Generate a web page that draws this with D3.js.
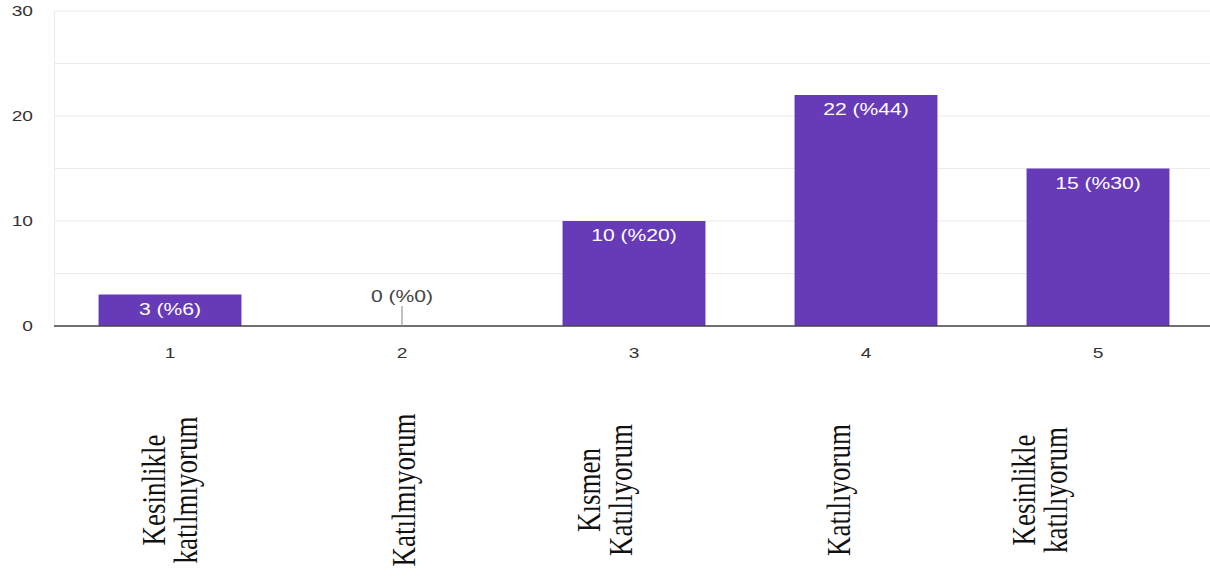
<!DOCTYPE html>
<html>
<head>
<meta charset="utf-8">
<script src="https://cdn.jsdelivr.net/npm/d3@7"></script>
<style>
  html, body { margin: 0; padding: 0; background: #fff; }
  svg { display: block; }
</style>
</head>
<body>
<svg id="chart" width="1210" height="581"></svg>
<script>
// ---- data ----
const categories = ["1", "2", "3", "4", "5"];
const counts = [3, 0, 10, 22, 15];
const percents = [6, 0, 20, 44, 30];
const yTicks = [0, 10, 20, 30];
const gridValues = [0, 5, 10, 15, 20, 25, 30];
const answerLabels = [
  ["Kesinlikle", "katılmıyorum"],
  ["Katılmıyorum"],
  ["Kısmen", "Katılıyorum"],
  ["Katılıyorum"],
  ["Kesinlikle", "katılıyorum"]
];

(function () {
// ---- layout ----
const W = 1210, H = 581;
const pLeft = 54, pRight = 1214, pTop = 11, pBottom = 326;
const sx = 1.28; // horizontal stretch of the original picture's text
const barColor = "#673ab7";

const svg = d3.select("#chart");

const x = d3.scaleBand().domain(categories).range([pLeft, pRight])
  .paddingInner(0.384).paddingOuter(0.192);
const y = d3.scaleLinear().domain([0, 30]).range([pBottom, pTop]);

// gridlines
svg.append("g").selectAll("line").data(gridValues).join("line")
  .attr("x1", pLeft).attr("x2", W)
  .attr("y1", d => y(d)).attr("y2", d => y(d))
  .attr("stroke", "#ebebeb").attr("stroke-width", 1);

// left frame line
svg.append("line")
  .attr("x1", pLeft + 0.5).attr("x2", pLeft + 0.5)
  .attr("y1", y(30)).attr("y2", y(0))
  .attr("stroke", "#ebebeb");

// y tick labels
svg.append("g").selectAll("text").data(yTicks).join("text")
  .attr("transform", d => `translate(33,${y(d)}) scale(${sx},1)`)
  .attr("dy", "0.36em")
  .attr("text-anchor", "end")
  .attr("font-family", "Liberation Sans, Arial, sans-serif")
  .attr("font-size", 15)
  .attr("fill", "#333")
  .text(d => d);

// bars
const data = categories.map((c, i) => ({ c, v: counts[i], p: percents[i] }));
svg.append("g").selectAll("rect").data(data).join("rect")
  .attr("x", d => x(d.c))
  .attr("width", x.bandwidth())
  .attr("y", d => y(d.v))
  .attr("height", d => y(0) - y(d.v))
  .attr("fill", barColor);

// baseline
svg.append("line")
  .attr("x1", pLeft).attr("x2", W)
  .attr("y1", y(0)).attr("y2", y(0))
  .attr("stroke", "#444").attr("stroke-width", 1.6);

// value labels
const vl = svg.append("g");
data.forEach(d => {
  const cx = x(d.c) + x.bandwidth() / 2;
  if (d.v > 0) {
    vl.append("text")
      .attr("transform", `translate(${cx},${y(d.v) + 20}) scale(${sx},1)`)
      .attr("text-anchor", "middle")
      .attr("font-family", "Liberation Sans, Arial, sans-serif")
      .attr("font-size", 16.5)
      .attr("fill", "#fff")
      .text(`${d.v} (%${d.p})`);
  } else {
    vl.append("line")
      .attr("x1", cx).attr("x2", cx)
      .attr("y1", y(0) - 20).attr("y2", y(0))
      .attr("stroke", "#999").attr("stroke-width", 1.2);
    vl.append("text")
      .attr("transform", `translate(${cx},${y(0) - 24}) scale(${sx},1)`)
      .attr("text-anchor", "middle")
      .attr("font-family", "Liberation Sans, Arial, sans-serif")
      .attr("font-size", 16.5)
      .attr("fill", "#444")
      .text(`${d.v} (%${d.p})`);
  }
});

// x tick labels
svg.append("g").selectAll("text").data(categories).join("text")
  .attr("transform", d => `translate(${x(d) + x.bandwidth() / 2},358) scale(${sx},1)`)
  .attr("text-anchor", "middle")
  .attr("font-family", "Liberation Sans, Arial, sans-serif")
  .attr("font-size", 15)
  .attr("fill", "#333")
  .text(d => d);

// rotated answer labels (serif text boxes below the axis)
const xl = d3.scalePoint().domain(categories).range([197, 1067]);
const lineGap = 32;
const lg = svg.append("g");
categories.forEach((c, i) => {
  const lines = answerLabels[i];
  const n = lines.length;
  const t = lg.append("text")
    .attr("transform", `translate(${xl(c)},490) scale(${sx},1) rotate(-90)`)
    .attr("text-anchor", "middle")
    .attr("font-family", "Liberation Serif, 'Times New Roman', serif")
    .attr("font-size", 27)
    .attr("fill", "#111");
  lines.forEach((s, j) => {
    t.append("tspan")
      .attr("x", 0)
      .attr("y", -(n - 1 - j) * lineGap / sx)
      .text(s);
  });
});
})();
</script>
</body>
</html>
